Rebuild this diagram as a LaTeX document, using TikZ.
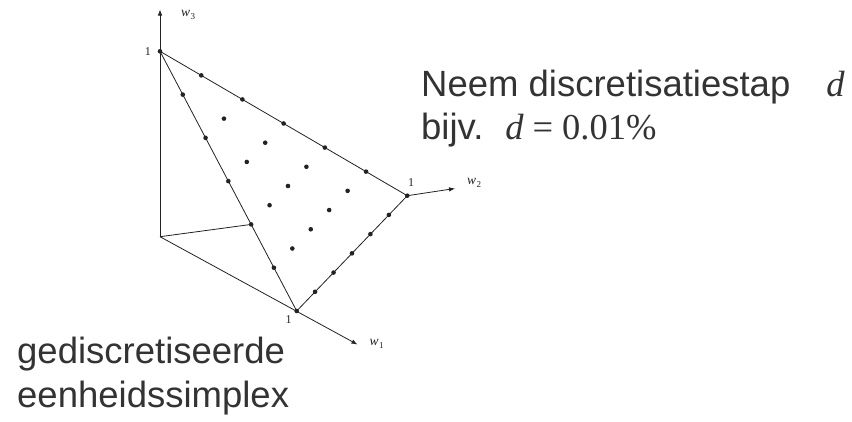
\documentclass[tikz,border=0pt]{standalone}
\usepackage{fontspec}
\setmainfont{Liberation Sans}
\newfontfamily\tms{Liberation Serif}
\usetikzlibrary{arrows.meta,calc}
\definecolor{ink}{HTML}{222222}
\definecolor{txt}{HTML}{333333}
\newcommand{\wlab}[1]{\itshape w\kern.3pt\raisebox{-3pt}{\upshape\fontsize{9}{10}\selectfont #1}}

\begin{document}
\begin{tikzpicture}[x=1pt,y=-1pt,
  ax/.style={ink,line width=.8pt,-{Latex[length=6pt,width=4.5pt]}},
  edge/.style={ink,line width=.8pt},
  lbl/.style={font=\tms\fontsize{12}{14}\selectfont,text=ink,inner sep=1pt},
  wl/.style={font=\tms\fontsize{13.5}{15}\selectfont,text=ink,inner sep=1pt,anchor=west},
  big/.style={font=\fontsize{36.5}{43}\selectfont,text=txt,inner sep=0pt,anchor=base west}]
\useasboundingbox (0,0) rectangle (852,421);
% corners of the simplex and axis ends
\coordinate (O) at (160,236.7);
\coordinate (E1) at (296.7,311);
\coordinate (E2) at (407.3,195.7);
\coordinate (E3) at (160,51.3);
\coordinate (H) at (barycentric cs:E1=4,E3=2);
\coordinate (T1) at (357.5,344.5);
\coordinate (T2) at (455,188.5);
\coordinate (T3) at (160,9.5);
\draw[ax] (O) -- (T3);
\draw[ax] (O) -- (T1);
\draw[ax] (E2) -- (T2);
\draw[edge] (O) -- (H);
\draw[edge] (E3) -- (E1) -- (E2) -- cycle;
% grid points, step 1/6
\foreach \i in {0,...,6}{
  \pgfmathtruncatemacro\m{6-\i}
  \foreach \j in {0,...,\m}{
    \pgfmathtruncatemacro\k{6-\i-\j}
    \fill[ink] (barycentric cs:E1=\i,E2=\j,E3=\k) circle (2.3);
  }
}
\node[lbl,anchor=east] (one3) at ($(E3)+(-8,0)$) {1};
\node[lbl] (one2) at (411,182.5) {1};
\node[lbl] (one1) at (288.5,319.5) {1};
\node[wl] (w3) at ($(T3)+(20,5.5)$) {\wlab{3}};
\node[wl] (w2) at ($(T2)+(11,-5.5)$) {\wlab{2}};
\node[wl] (w1) at ($(T1)+(11,-0.5)$) {\wlab{1}};
% texts
\node[big] (stap) at (421,96) {Neem discretisatiestap\hspace{36pt}{\tms\itshape d}};
\node[big] (bijv) at (421,139) {bijv.\hspace{22pt}{\tms\itshape d}\hspace{9pt}{\tms=}\hspace{9pt}{\tms 0.01\%}};
\node[big] (simp1) at (17,363) {gediscretiseerde};
\node[big] (simp2) at (17,407) {eenheidssimplex};
\end{tikzpicture}
\end{document}
